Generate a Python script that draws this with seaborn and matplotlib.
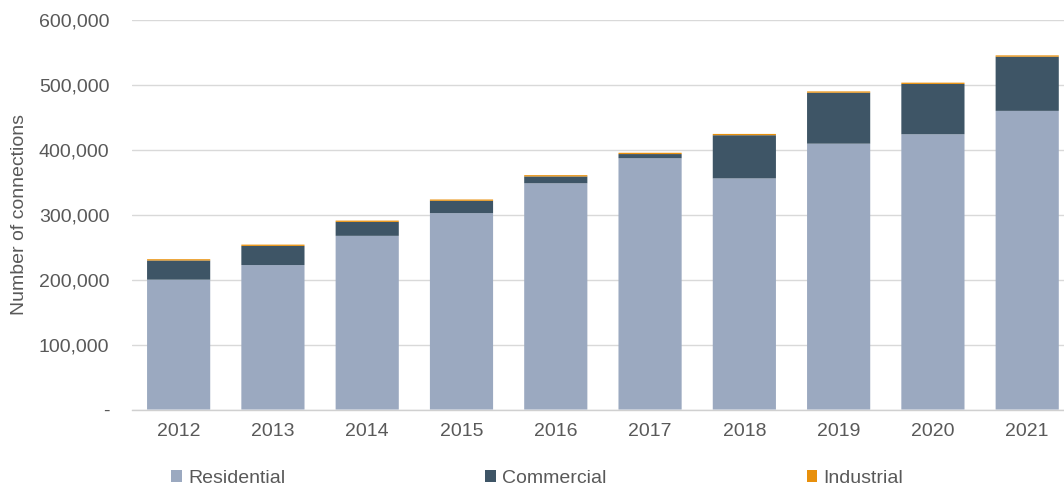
import matplotlib
matplotlib.use("Agg")
import matplotlib.pyplot as plt
from matplotlib.patches import Patch
from matplotlib.ticker import FuncFormatter, MultipleLocator
import seaborn as sns
import pandas as pd
import numpy as np

years = ["2012", "2013", "2014", "2015", "2016", "2017", "2018", "2019", "2020", "2021"]
residential = [200000, 222500, 267500, 302500, 348500, 387000, 356000, 409500, 424000, 460000]
commercial = [29500, 29500, 21500, 19000, 10500, 6500, 66500, 78500, 77500, 83500]
industrial = [2000, 2000, 2000, 2000, 2000, 2000, 2000, 2000, 2000, 2000]

series_names = ["Residential", "Commercial", "Industrial"]
colors = {"Residential": "#9BA9C0", "Commercial": "#3E5566", "Industrial": "#E8900C"}

df = pd.DataFrame({"year": years, "Residential": residential,
                   "Commercial": commercial, "Industrial": industrial})

sns.set_theme(style="white")
plt.rcParams["font.family"] = ["Liberation Sans", "DejaVu Sans"]
FS = 14
GREY = "#595959"

fig = plt.figure(figsize=(10.64, 4.93), dpi=100)
ax = fig.add_axes([131.5 / 1064, (493 - 409.5) / 493, 1 - 131.5 / 1064, (409.5 - 20) / 493])

# stacked bars, each layer sitting on the running total of the layers below
base = np.zeros(len(years))
for name in series_names:
    sns.barplot(data=df, x="year", y=name, order=years, color=colors[name],
                bottom=base.copy(), width=0.67, saturation=1, linewidth=0,
                snap=False, ax=ax, zorder=3)
    base = base + df[name].to_numpy()

ax.set_ylim(0, 600000)
ax.set_xlim(-0.5, 9 + (1064 - 1027.2) / 94.3)
ax.yaxis.set_major_locator(MultipleLocator(100000))
ax.yaxis.set_major_formatter(FuncFormatter(lambda v, p: "-" if v == 0 else f"{int(v):,}"))
ax.grid(axis="y", color="#D9D9D9", linewidth=1.0, zorder=0)
ax.set_axisbelow(True)
for s in ["top", "right", "left"]:
    ax.spines[s].set_visible(False)
ax.spines["bottom"].set_color("#D0D0D0")
ax.spines["bottom"].set_linewidth(1.0)
ax.tick_params(axis="x", length=0, labelsize=FS, colors=GREY, pad=10)
ax.tick_params(axis="y", length=0, labelsize=FS, colors=GREY, pad=16)
ax.set_xlabel("")
ax.set_ylabel("Number of connections", fontsize=FS, color=GREY, labelpad=8)

handles = [Patch(facecolor=colors[n], edgecolor="none", label=n) for n in series_names]
fig.legend(handles=handles, loc="center left", bbox_to_anchor=(0.152, 0.029),
           ncol=3, frameon=False, fontsize=FS, handlelength=0.55, handleheight=0.55,
           handletextpad=0.3, columnspacing=10.3, borderpad=0, labelcolor=GREY)

fig.savefig("out.png", dpi=100)
